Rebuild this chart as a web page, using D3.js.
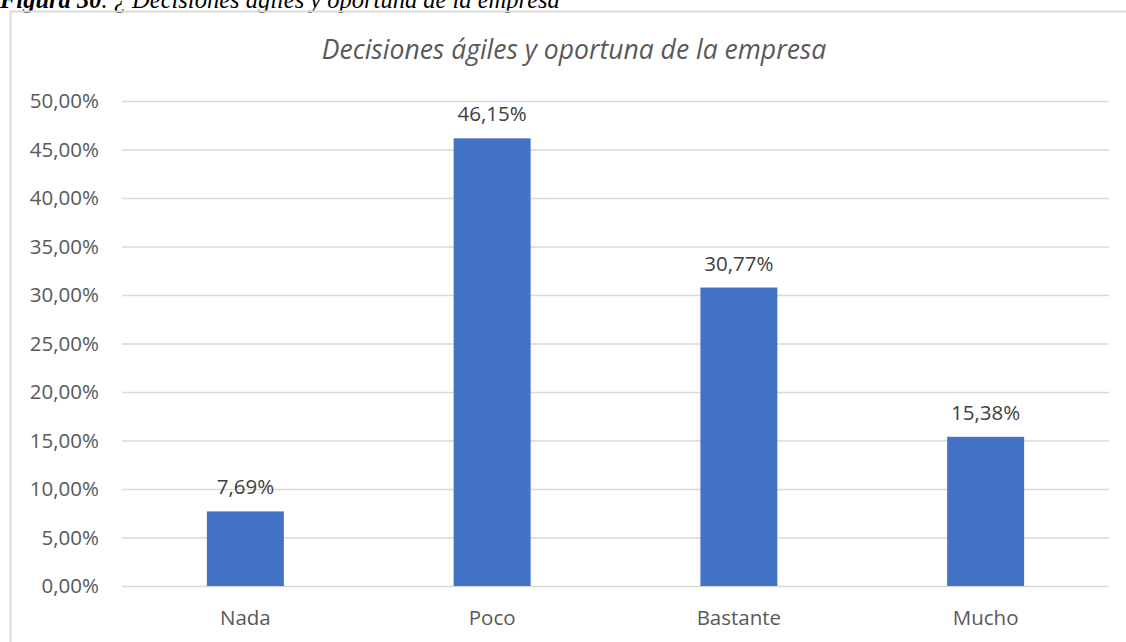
<!DOCTYPE html>
<html>
<head>
<meta charset="utf-8">
<script src="https://cdn.jsdelivr.net/npm/d3@7"></script>
<style>
  html, body { margin: 0; padding: 0; background: #fff; }
  svg { display: block; }
</style>
</head>
<body>
<script>
// Chart data
const categories = ["Nada", "Poco", "Bastante", "Mucho"];
const values = [7.69, 46.15, 30.77, 15.38];
const yTicks = [0, 5, 10, 15, 20, 25, 30, 35, 40, 45, 50];

const W = 1126, H = 642;
const svg = d3.select("body").append("svg").attr("width", W).attr("height", H);

const fmt = v => v.toFixed(2).replace(".", ",") + "%";
const FONT = "Open Sans, sans-serif";

// Figure caption above the chart frame
const cap = svg.append("text")
  .attr("x", 0).attr("y", 8)
  .attr("font-family", "Liberation Serif, Times New Roman, serif")
  .attr("font-size", 24.5)
  .attr("font-style", "italic")
  .attr("fill", "#000");
cap.append("tspan").attr("font-weight", "bold").text("Figura 30");
cap.append("tspan").text(". ¿ Decisiones ágiles y oportuna de la empresa");

// Chart frame (top and left edges visible)
svg.append("path")
  .attr("d", `M10.5,${H} V11.5 H${W}`)
  .attr("fill", "none").attr("stroke", "#d9d9d9").attr("stroke-width", 2);

// Title
svg.append("text")
  .attr("x", 574).attr("y", 59)
  .attr("text-anchor", "middle")
  .attr("font-family", FONT)
  .attr("font-style", "italic")
  .attr("font-size", 26.5)
  .attr("fill", "#595959")
  .text("Decisiones ágiles y oportuna de la empresa");

const x = d3.scaleBand().domain(categories).range([122, 1109]).paddingInner(0.688).paddingOuter(0.344);
const y = d3.scaleLinear().domain([0, 50]).range([586, 101]);

// Gridlines and y axis labels
const yAxis = d3.axisLeft(y).tickValues(yTicks).tickFormat(fmt).tickSize(-(1109 - 122)).tickPadding(23);
const gy = svg.append("g").attr("transform", "translate(122,0)").call(yAxis);
gy.select(".domain").remove();
gy.selectAll(".tick line").attr("stroke", "#d9d9d9").attr("stroke-width", 1.3);
gy.selectAll(".tick text")
  .attr("font-family", FONT)
  .attr("font-size", 20.5)
  .attr("fill", "#595959");

// Bars
svg.append("g").selectAll("rect").data(values).join("rect")
  .attr("x", (d, i) => x(categories[i]))
  .attr("width", x.bandwidth())
  .attr("y", d => y(d))
  .attr("height", d => y(0) - y(d))
  .attr("fill", "#4472c4");

// Value labels
svg.append("g").selectAll("text").data(values).join("text")
  .attr("x", (d, i) => x(categories[i]) + x.bandwidth() / 2)
  .attr("y", d => y(d) - 17)
  .attr("text-anchor", "middle")
  .attr("font-family", FONT)
  .attr("font-size", 20.5)
  .attr("fill", "#404040")
  .text(d => fmt(d));

// Category axis labels
const xAxis = d3.axisBottom(x).tickSize(0).tickPadding(24);
const gx = svg.append("g").attr("transform", "translate(0,586)").call(xAxis);
gx.select(".domain").remove();
gx.selectAll(".tick text")
  .attr("font-family", FONT)
  .attr("font-size", 20.5)
  .attr("fill", "#595959");
</script>
</body>
</html>
